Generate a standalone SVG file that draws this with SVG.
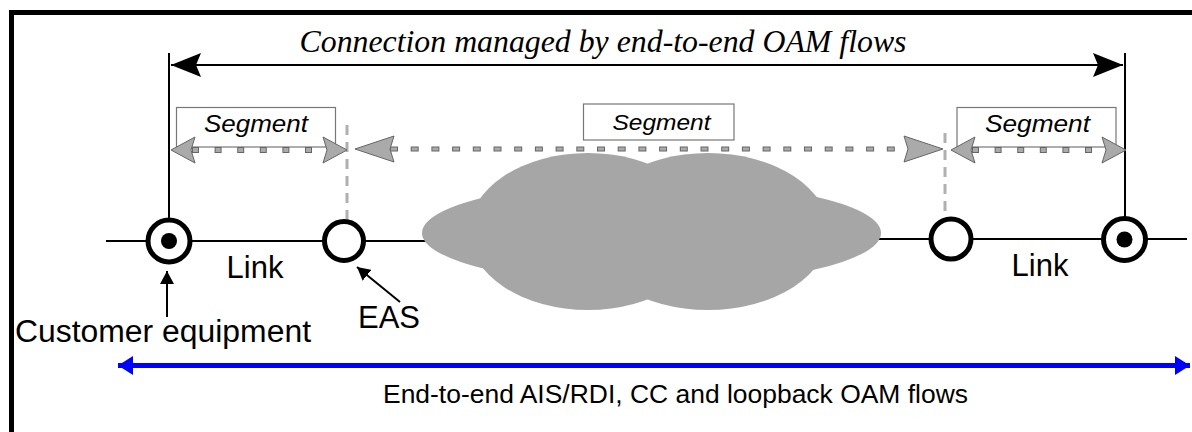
<svg xmlns="http://www.w3.org/2000/svg" width="1192" height="432" viewBox="0 0 1192 432">
  <style>
    .lbl { font-family: "Liberation Sans", Arial, sans-serif; fill: #000; }
    .seg { font-family: "Liberation Sans", Arial, sans-serif; font-style: italic; fill: #000; }
    .title { font-family: "Liberation Serif", "Times New Roman", serif; font-style: italic; fill: #000; }
    .wire { stroke: #000; stroke-width: 2; fill: none; }
    .node { fill: #fff; stroke: #000; stroke-width: 5; }
    .segbox { fill: #fff; stroke: #777; stroke-width: 1.2; }
    .vdash { stroke: #b0b0b0; stroke-width: 3; stroke-dasharray: 10 7; fill: none; }
    .ghead { fill: #aaa; stroke: #666; stroke-width: 1; }
  </style>
  <defs>
    <!-- gray stealth arrowheads, tip at origin pointing right -->
    <path id="gh" d="M0,0 L-24,-13 L-20,0 L-24,13 Z" class="ghead"/>
    <path id="ghL" d="M0,0 L-39,-13 L-35,0 L-39,13 Z" class="ghead"/>
    <marker id="blk" markerUnits="userSpaceOnUse" markerWidth="32" markerHeight="26" refX="30" refY="12" orient="auto-start-reverse">
      <path d="M30,12 L0,0 L5,12 L0,24 Z" fill="#000"/>
    </marker>
    <marker id="blu" markerUnits="userSpaceOnUse" markerWidth="16" markerHeight="20" refX="15" refY="9.5" orient="auto-start-reverse">
      <path d="M15,9.5 L0,0 L0,19 Z" fill="#0000ff"/>
    </marker>
    <marker id="sm" markerUnits="userSpaceOnUse" markerWidth="14" markerHeight="14" refX="13" refY="7" orient="auto">
      <path d="M13,7 L0,0 L0,14 Z" fill="#000"/>
    </marker>
  </defs>

  <!-- frame -->
  <g id="frame">
    <line x1="9" y1="12.5" x2="1192" y2="12.5" stroke="#000" stroke-width="5"/>
    <line x1="11.5" y1="10" x2="11.5" y2="432" stroke="#000" stroke-width="5"/>
  </g>

  <!-- title -->
  <g id="title">
    <text class="title" x="603" y="52" font-size="32" text-anchor="middle" textLength="607" lengthAdjust="spacingAndGlyphs">Connection managed by end-to-end OAM flows</text>
  </g>

  <g id="connectors">
    <!-- end-to-end connection span -->
    <line class="wire" x1="169" y1="53" x2="169" y2="219"/>
    <line class="wire" x1="1125" y1="53" x2="1125" y2="217"/>
    <line x1="171" y1="65" x2="1123" y2="65" stroke="#000" stroke-width="2" marker-start="url(#blk)" marker-end="url(#blk)"/>

    <!-- main transport line -->
    <line class="wire" x1="106" y1="241" x2="600" y2="241"/>
    <line class="wire" x1="700" y1="239" x2="1187" y2="239"/>

    <!-- segment boundaries -->
    <line class="vdash" x1="347" y1="125" x2="347" y2="220"/>
    <line class="vdash" x1="945" y1="133" x2="945" y2="218"/>

    <!-- pointer arrows -->
    <line x1="167" y1="317" x2="167" y2="271" stroke="#000" stroke-width="2" marker-end="url(#sm)"/>
    <line x1="400" y1="302" x2="357" y2="267" stroke="#000" stroke-width="2" marker-end="url(#sm)"/>

    <!-- end-to-end OAM flow -->
    <line x1="118" y1="365.5" x2="1190" y2="365.5" stroke="#0000ff" stroke-width="5" marker-start="url(#blu)" marker-end="url(#blu)"/>
  </g>

  <!-- cloud -->
  <g id="cloud" fill="#a6a6a6">
    <ellipse cx="651.5" cy="233" rx="229.5" ry="52"/>
    <ellipse cx="588" cy="231.5" rx="119" ry="78.5"/>
    <ellipse cx="708" cy="231.5" rx="121" ry="78.5"/>
  </g>

  <!-- segment: customer side left -->
  <g id="segment-left">
    <rect class="segbox" x="176.5" y="107.5" width="159" height="39.5"/>
    <text class="seg" x="256" y="131.5" font-size="23" text-anchor="middle" textLength="104" lengthAdjust="spacingAndGlyphs">Segment</text>
    <line x1="190" y1="150" x2="330" y2="150" stroke="#666" stroke-width="6" stroke-dasharray="7 15.6" stroke-dashoffset="-2"/>
    <line x1="190" y1="150" x2="330" y2="150" stroke="#aaa" stroke-width="4" stroke-dasharray="5 17.6" stroke-dashoffset="-3"/>
    <use href="#gh" transform="translate(171,150) scale(-1,1)"/>
    <use href="#gh" transform="translate(347,150)"/>
  </g>

  <!-- segment: network middle -->
  <g id="segment-middle">
    <rect class="segbox" x="583.5" y="104" width="150.5" height="36"/>
    <text class="seg" x="661.5" y="129.5" font-size="22" text-anchor="middle" textLength="98" lengthAdjust="spacingAndGlyphs">Segment</text>
    <line x1="390" y1="149" x2="906" y2="149" stroke="#666" stroke-width="5" stroke-dasharray="8 12.7"/>
    <line x1="390" y1="149" x2="906" y2="149" stroke="#aaa" stroke-width="3" stroke-dasharray="6 14.7" stroke-dashoffset="-1"/>
    <use href="#ghL" transform="translate(355,149) scale(-1,1)"/>
    <use href="#ghL" transform="translate(943,149)"/>
  </g>

  <!-- segment: customer side right -->
  <g id="segment-right">
    <rect class="segbox" x="957" y="107.5" width="159" height="39.5"/>
    <text class="seg" x="1037.5" y="131.5" font-size="23" text-anchor="middle" textLength="105" lengthAdjust="spacingAndGlyphs">Segment</text>
    <line x1="970" y1="150" x2="1108" y2="150" stroke="#666" stroke-width="6" stroke-dasharray="7 15.6" stroke-dashoffset="-2"/>
    <line x1="970" y1="150" x2="1108" y2="150" stroke="#aaa" stroke-width="4" stroke-dasharray="5 17.6" stroke-dashoffset="-3"/>
    <use href="#gh" transform="translate(951,150) scale(-1,1)"/>
    <use href="#gh" transform="translate(1126,150)"/>
  </g>

  <!-- nodes -->
  <g id="customer-left">
    <circle class="node" cx="169" cy="241" r="21"/>
    <circle cx="169" cy="241" r="8" fill="#000"/>
  </g>
  <g id="eas-left">
    <circle class="node" cx="344" cy="241" r="19.5"/>
  </g>
  <g id="eas-right">
    <circle class="node" cx="951" cy="239" r="20"/>
  </g>
  <g id="customer-right">
    <circle class="node" cx="1124.5" cy="239.5" r="21"/>
    <circle cx="1124.5" cy="239.5" r="8" fill="#000"/>
  </g>

  <!-- labels -->
  <g id="labels">
    <text class="lbl" x="255" y="278" font-size="31" text-anchor="middle">Link</text>
    <text class="lbl" x="1040" y="276" font-size="31" text-anchor="middle">Link</text>
    <text class="lbl" x="15" y="342" font-size="31" textLength="296" lengthAdjust="spacingAndGlyphs">Customer equipment</text>
    <text class="lbl" x="358" y="328" font-size="31">EAS</text>
    <text class="lbl" x="675.5" y="403" font-size="25" text-anchor="middle" textLength="585" lengthAdjust="spacingAndGlyphs">End-to-end AIS/RDI, CC and loopback OAM flows</text>
  </g>
</svg>
